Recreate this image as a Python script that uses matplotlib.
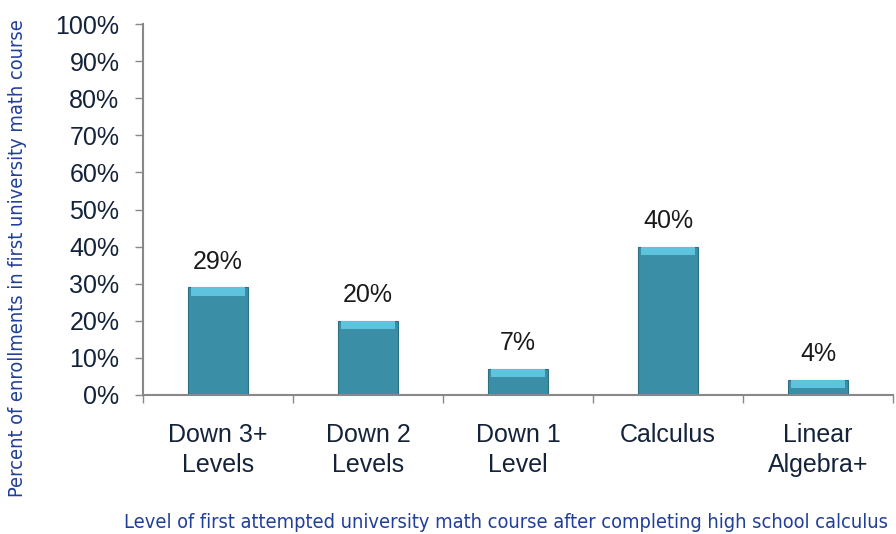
import matplotlib
matplotlib.use('Agg')
import matplotlib.pyplot as plt
from matplotlib.font_manager import FontProperties, findfont
import numpy as np

categories = ['Down 3+\nLevels', 'Down 2\nLevels', 'Down 1\nLevel', 'Calculus', 'Linear\nAlgebra+']
values = [29, 20, 7, 40, 4]
y_ticks = [0, 10, 20, 30, 40, 50, 60, 70, 80, 90, 100]

plt.rcParams['font.family'] = ['Liberation Sans', 'DejaVu Sans']

fig = plt.figure(figsize=(8.96, 5.34), dpi=100)
ax = fig.add_axes([143/896, 1 - 395/534, 750/896, 371/534])

x = np.arange(len(categories))
ax.bar(x, values, width=0.4, color='#3a8ea5', edgecolor='#2a6f82', linewidth=0.8, zorder=2)
# lighter bevel on top of each bar
cap = [min(2.2, v * 0.5) for v in values]
base = [v - c for v, c in zip(values, cap)]
ax.bar(x, cap, width=0.36, bottom=base, color='#5ec4de', edgecolor='none', zorder=3)

for xi, v in zip(x, values):
    ax.annotate('%d%%' % v, (xi, v), xytext=(0, 10), textcoords='offset points',
                ha='center', va='bottom', fontsize=18, color='#1a1a1a')

ax.set_xlim(-0.5, 4.5)
ax.set_ylim(0, 100)
ax.set_yticks(y_ticks)
ax.set_yticklabels(['%d%%' % t for t in y_ticks], fontsize=18, color='#14233a')
ax.tick_params(axis='y', direction='out', length=6, width=1, color='#888888', pad=11)

# major ticks at category boundaries, labels on minor ticks at centres
ax.set_xticks(np.arange(-0.5, 4.6, 1.0))
ax.set_xticklabels([])
ax.tick_params(axis='x', which='major', direction='out', length=6, width=1, color='#888888')
ax.set_xticks(x, minor=True)
ax.set_xticklabels(categories, minor=True, fontsize=18, color='#14233a', linespacing=1.35)
ax.tick_params(axis='x', which='minor', length=0, pad=20)

for s in ['top', 'right']:
    ax.spines[s].set_visible(False)
for s in ['left', 'bottom']:
    ax.spines[s].set_color('#888888')
    ax.spines[s].set_linewidth(1.5)

# axis titles in a condensed face if one is available
cond = FontProperties(family='DejaVu Sans', stretch='condensed')
if 'Condensed' in findfont(cond):
    lab_kw = dict(family='DejaVu Sans', fontstretch='condensed', fontsize=14.3)
else:
    lab_kw = dict(family='DejaVu Sans', fontsize=12.9)

lab_col = '#1f3f99'
fig.text(18/896, 1 - 258/534, 'Percent of enrollments in first university math course',
         rotation=90, ha='center', va='center', color=lab_col, **lab_kw)
fig.text(506/896, 1 - 522/534,
         'Level of first attempted university math course after completing high school calculus',
         ha='center', va='center', color=lab_col, **lab_kw)

fig.savefig('out.png', dpi=100)
